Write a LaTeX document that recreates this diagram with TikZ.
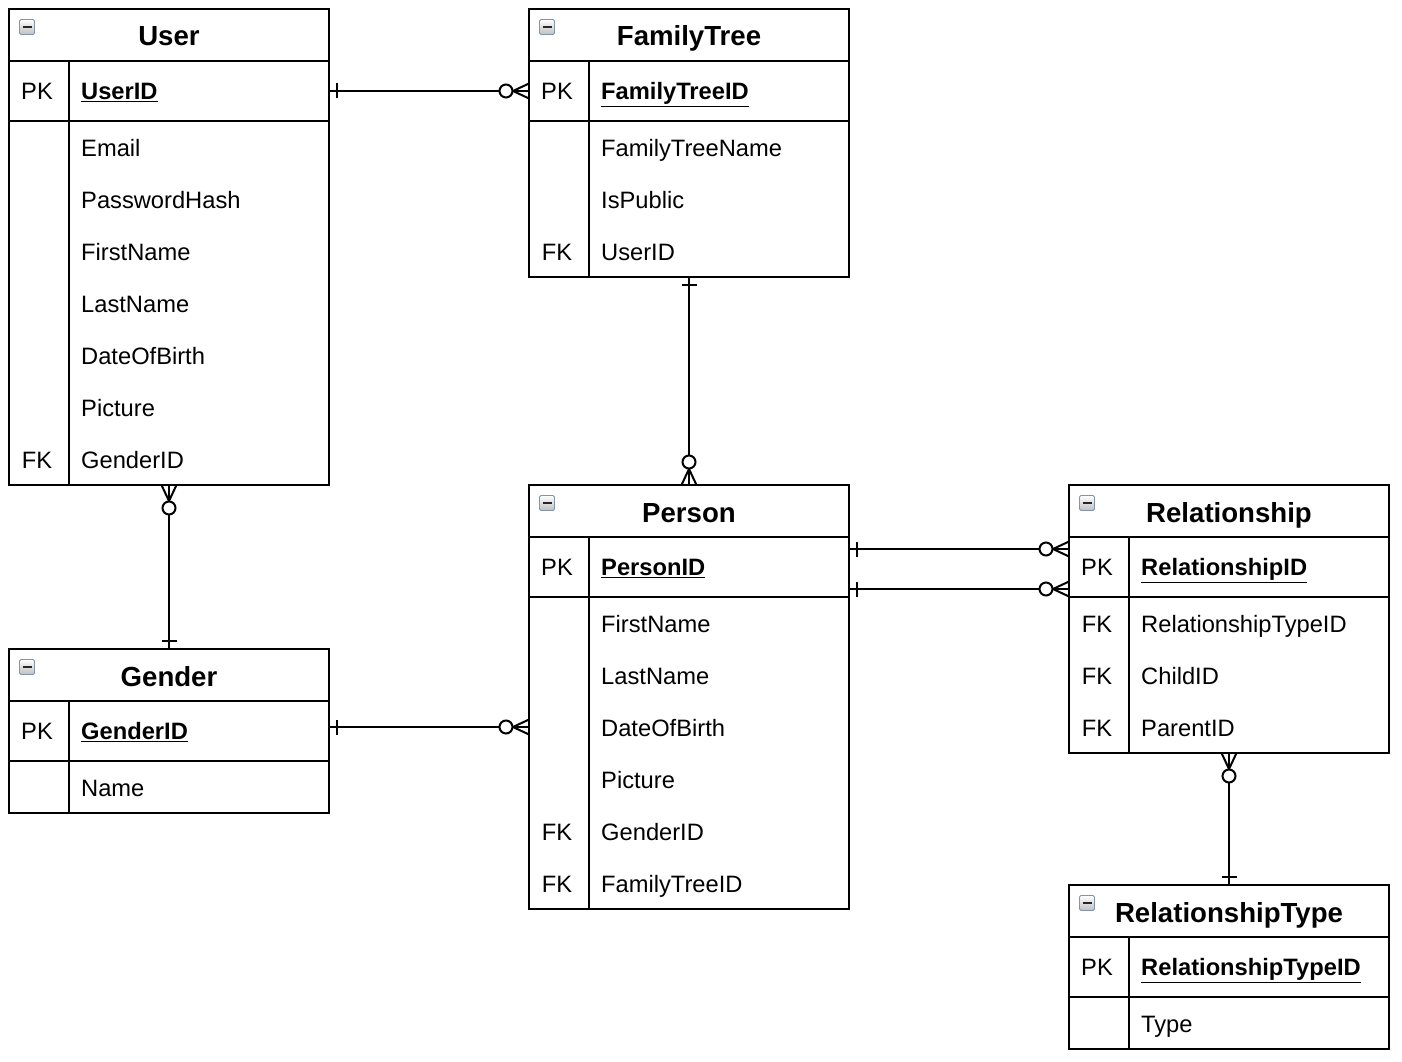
\documentclass[tikz,border=0pt]{standalone}
\usepackage{fontspec}
\setmainfont{Liberation Sans}
\usetikzlibrary{decorations.markings,calc}
\definecolor{iconedge}{HTML}{8194AA}
\tikzset{
  tbl/.style={draw, line width=2pt, minimum width=320pt, outer sep=0pt, inner sep=0pt},
  ttl/.style={font=\bfseries\fontsize{27.6pt}{32pt}\selectfont, text height=20pt, text depth=0pt, inner sep=0pt, anchor=center},
  keyt/.style={font=\fontsize{23.7pt}{28pt}\selectfont, text height=17pt, text depth=0pt, inner sep=0pt, anchor=center},
  fld/.style={font=\fontsize{23.7pt}{28pt}\selectfont, text height=17pt, text depth=0pt, inner sep=0pt, anchor=west},
  icon/.style={draw=iconedge, line width=0.9pt, rounded corners=1.5pt, minimum size=15pt, inner sep=0pt,
    top color=white, bottom color=gray!50,
    path picture={\draw[line width=2.4pt, black!85] ([xshift=-4.5pt]path picture bounding box.center) -- ([xshift=4.5pt]path picture bounding box.center);}},
  conn/.style={draw, line width=2pt},
  onemany/.style={postaction={decorate, decoration={markings,
    mark=at position 8pt with {\draw[line width=2pt] (0,-7.5pt) -- (0,7.5pt);},
    mark=at position 1 with {\draw[line width=2pt] (-16pt,0) -- (0,7.5pt) (-16pt,0) -- (0,-7.5pt);
                             \draw[line width=2pt, fill=white] (-23pt,0) circle (6.5pt);}}}},
  manyone/.style={postaction={decorate, decoration={markings,
    mark=at position 0 with {\draw[line width=2pt] (16pt,0) -- (0,7.5pt) (16pt,0) -- (0,-7.5pt);
                             \draw[line width=2pt, fill=white] (23pt,0) circle (6.5pt);},
    mark=at position -8pt with {\draw[line width=2pt] (0,-7.5pt) -- (0,7.5pt);}}}},
}
\newcommand\ertable[5]{% name, x, y, height, title
  \node[tbl, minimum height=#4, anchor=north west] (#1) at (#2,#3) {};
  \draw[line width=2pt] ([yshift=-52pt]#1.north west) -- ([yshift=-52pt]#1.north east);
  \draw[line width=2pt] ([yshift=-112pt]#1.north west) -- ([yshift=-112pt]#1.north east);
  \draw[line width=2pt] ([xshift=60pt,yshift=-52pt]#1.north west) -- ([xshift=60pt]#1.south west);
  \node[ttl] (#1-title) at ([yshift=-27pt]#1.north) {#5};
  \node[icon] (#1-icon) at ([xshift=18pt,yshift=-18pt]#1.north west) {};
}
\newcommand\errow[5]{% name, table, dy, key, text
  \node[keyt] (#1-k) at ([xshift=28pt,yshift=-#3pt]#2.north west) {#4};
  \node[fld] (#1) at ([xshift=72pt,yshift=-#3pt]#2.north west) {#5};
}
\begin{document}
\begin{tikzpicture}[x=1pt, y=-1pt]
\useasboundingbox[fill=white] (0,0) rectangle (1402,1062);
% tables
\ertable{user}{9}{9}{476}{User}
\errow{user-pk}{user}{82}{PK}{\textbf{\underline{UserID}}}
\errow{user-email}{user}{139}{}{Email}
\errow{user-pw}{user}{191}{}{PasswordHash}
\errow{user-fn}{user}{243}{}{FirstName}
\errow{user-ln}{user}{295}{}{LastName}
\errow{user-dob}{user}{347}{}{DateOfBirth}
\errow{user-pic}{user}{399}{}{Picture}
\errow{user-gid}{user}{451}{FK}{GenderID}

\ertable{ft}{529}{9}{268}{FamilyTree}
\errow{ft-pk}{ft}{82}{PK}{\textbf{\underline{FamilyTreeID}}}
\errow{ft-name}{ft}{139}{}{FamilyTreeName}
\errow{ft-pub}{ft}{191}{}{IsPublic}
\errow{ft-uid}{ft}{243}{FK}{UserID}

\ertable{person}{529}{485}{424}{Person}
\errow{p-pk}{person}{82}{PK}{\textbf{\underline{PersonID}}}
\errow{p-fn}{person}{139}{}{FirstName}
\errow{p-ln}{person}{191}{}{LastName}
\errow{p-dob}{person}{243}{}{DateOfBirth}
\errow{p-pic}{person}{295}{}{Picture}
\errow{p-gid}{person}{347}{FK}{GenderID}
\errow{p-ftid}{person}{399}{FK}{FamilyTreeID}

\ertable{rel}{1069}{485}{268}{Relationship}
\errow{r-pk}{rel}{82}{PK}{\textbf{\underline{RelationshipID}}}
\errow{r-tid}{rel}{139}{FK}{RelationshipTypeID}
\errow{r-cid}{rel}{191}{FK}{ChildID}
\errow{r-pid}{rel}{243}{FK}{ParentID}

\ertable{gender}{9}{649}{164}{Gender}
\errow{g-pk}{gender}{82}{PK}{\textbf{\underline{GenderID}}}
\errow{g-name}{gender}{139}{}{Name}

\ertable{rtype}{1069}{885}{164}{RelationshipType}
\errow{rt-pk}{rtype}{82}{PK}{\textbf{\underline{RelationshipTypeID}}}
\errow{rt-type}{rtype}{139}{}{Type}

% connectors
\draw[conn, onemany] (user.east |- user-pk) -- (ft.west |- user-pk);
\draw[conn, onemany] (ft.south) -- (person.north);
\draw[conn, manyone] (user.south) -- (gender.north);
\coordinate (gp) at ([yshift=-78pt]gender.north east);
\draw[conn, onemany] (gp) -- (gp -| person.west);
\coordinate (pr1) at ([yshift=-64pt]person.north east);
\coordinate (pr2) at ([yshift=-104pt]person.north east);
\draw[conn, onemany] (pr1) -- (pr1 -| rel.west);
\draw[conn, onemany] (pr2) -- (pr2 -| rel.west);
\draw[conn, manyone] (rel.south) -- (rtype.north);
\end{tikzpicture}
\end{document}
